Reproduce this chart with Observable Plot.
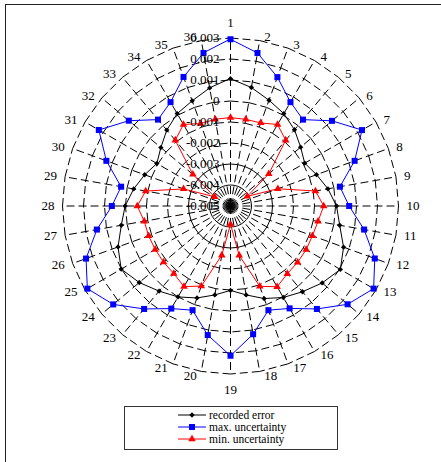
<!DOCTYPE html>
<html>
<head>
<meta charset="utf-8">
<script src="https://cdn.jsdelivr.net/npm/d3@7"></script>
<script src="https://cdn.jsdelivr.net/npm/@observablehq/plot@0.6"></script>
<style>
  html, body { margin: 0; padding: 0; background: #fff; }
  #page { position: relative; width: 441px; height: 462px; overflow: hidden; background: #fff; }
  #frame { position: absolute; left: 5px; top: 4px; width: 470px; height: 490px; border: 1px solid #222; }
  #chart { position: absolute; left: 0; top: 0; }
  #legend { position: absolute; left: 124px; top: 406px; width: 212px; height: 42px; border: 1px solid #333;
            font-family: "Liberation Serif", serif; font-size: 11.5px; color: #000; background: #fff; }
  .row { position: absolute; left: 53px; height: 12px; display: flex; align-items: center; white-space: nowrap; }
  .row svg { margin-right: 3px; flex: none; }
</style>
</head>
<body>
<div id="page">
  <div id="frame"></div>
  <div id="chart"></div>
  <div id="legend"></div>
</div>
<script>
// Spoke (category) labels, clockwise from the top
const spokeLabels = ["1","2","3","4","5","6","7","8","9","10","11","12",
  "13","14","15","16","17","18","19","20","21","22","23","24",
  "25","26","27","28","29","30","31","32","33","34","35","36"];

// Series values per spoke
const recordedError = [0.00106, 0.00073, 0.00036, 0.00008, -0.00026, -0.00064, -0.00092, -0.00064, -0.00029,
  0.00005, 0.00028, 0.00073, 0.00104, 0.0007, 0.00033, 0.00003, -0.00031, -0.0007,
  -0.00098, -0.0007, -0.00034, 0, 0.00029, 0.00067, 0.00101, 0.0007, 0.00028,
  0.00002, -0.00032, -0.00065, -0.00095, -0.00067, -0.00028, 0.00008, 0.00033, 0.00071];

const maxUncertainty = [0.00294, 0.0024, 0.00153, 0.00071, 0.00037, 0.00131, 0.00223, 0.00129, 0.00029,
  0.00065, 0.00146, 0.00231, 0.00287, 0.00228, 0.0014, 0.00063, 0.00028, 0.0012,
  0.00213, 0.00124, 0.00028, 0.00064, 0.0014, 0.00229, 0.00287, 0.00232, 0.00146,
  0.00065, 0.00029, 0.00129, 0.00224, 0.00132, 0.00037, 0.00071, 0.00154, 0.0024];

const minUncertainty = [-0.00079, -0.00081, -0.00079, -0.00052, -0.00091, -0.00262, -0.00408, -0.0026, -0.00089,
  -0.00056, -0.00077, -0.00085, -0.00084, -0.00083, -0.00079, -0.00056, -0.00093, -0.00261,
  -0.00413, -0.00262, -0.00094, -0.00057, -0.0008, -0.00084, -0.00086, -0.00085, -0.00083,
  -0.00056, -0.0009, -0.00262, -0.00413, -0.00266, -0.00091, -0.00052, -0.00082, -0.00081];

// Radial axis ticks
const tickValues = [0.003, 0.002, 0.001, 0, -0.001, -0.002, -0.003, -0.004, -0.005];
const tickLabels = ["0.003", "0.002", "0.001", "0", "-0.001", "-0.002", "-0.003", "-0.004", "-0.005"];

const seriesNames = ["recorded error", "max. uncertainty", "min. uncertainty"];
const seriesColors = ["#000000", "#0000ff", "#ff0000"];
const seriesSymbols = ["diamond2", "square", "triangle"];
const seriesSizes = [2.4, 3.4, 2.8];

// Polar helpers: radial value -> cartesian (in value units)
const VMIN = d3.min(tickValues), VMAX = d3.max(tickValues);
const n = spokeLabels.length;
const ang = i => 2 * Math.PI * i / n;
const px = (v, i) => (v - VMIN) * Math.sin(ang(i));
const py = (v, i) => (v - VMIN) * Math.cos(ang(i));
const labelR = VMIN + (VMAX - VMIN) * 172 / 168;

const seriesValues = [recordedError, maxUncertainty, minUncertainty];
const series = seriesNames.map((name, s) => ({
  name, color: seriesColors[s], symbol: seriesSymbols[s], r: seriesSizes[s],
  points: seriesValues[s].map((v, i) => ({ v, i }))
}));

const spokes = spokeLabels.map((label, i) => ({ label, i }));
// gridline rings, drawn one segment at a time between neighbouring spokes
const ringSegs = tickValues.filter(v => v > VMIN).flatMap(v => spokes.map(s => ({ v, i: s.i })));

const font = { fontFamily: "Liberation Serif", fontSize: 13, fill: "#000" };

const seriesMarks = series.flatMap(s => [
  Plot.line(s.points, {
    x: d => px(d.v, d.i), y: d => py(d.v, d.i),
    stroke: s.color, strokeWidth: 1, curve: "linear-closed"
  })
]);
const dotMarks = series.map(s =>
  Plot.dot(s.points, {
    x: d => px(d.v, d.i), y: d => py(d.v, d.i),
    symbol: s.symbol, r: s.r, fill: s.color, stroke: "none"
  })
);

const chart = Plot.plot({
  width: 441,
  height: 410,
  marginLeft: 20,
  marginRight: 1,
  marginTop: 6,
  marginBottom: 5,
  x: { domain: [-0.010, 0.010], axis: null },
  y: { domain: [-0.0095, 0.0095], axis: null },
  style: { background: "transparent", fontFamily: "Liberation Serif" },
  marks: [
    // dashed rings
    Plot.link(ringSegs, {
      x1: d => px(d.v, d.i), y1: d => py(d.v, d.i),
      x2: d => px(d.v, d.i + 1), y2: d => py(d.v, d.i + 1),
      stroke: "#000", strokeWidth: 1, strokeDasharray: "8,4"
    }),
    // dashed spokes
    Plot.link(spokes, {
      x1: 0, y1: 0,
      x2: d => px(VMAX, d.i), y2: d => py(VMAX, d.i),
      stroke: "#000", strokeWidth: 1, strokeDasharray: "8,4"
    }),
    ...seriesMarks,
    ...dotMarks,
    // spoke labels
    Plot.text(spokes.filter(d => d.i === 0), {
      x: d => px(labelR, d.i), y: d => py(labelR, d.i), text: "label",
      textAnchor: "middle", dy: -11.5, ...font
    }),
    Plot.text(spokes.filter(d => d.i === n / 2), {
      x: d => px(labelR, d.i), y: d => py(labelR, d.i), text: "label",
      textAnchor: "middle", dy: 11.5, ...font
    }),
    Plot.text(spokes.filter(d => d.i > 0 && d.i < n / 2), {
      x: d => px(labelR, d.i), y: d => py(labelR, d.i), text: "label",
      textAnchor: "start", dx: 4, ...font
    }),
    Plot.text(spokes.filter(d => d.i > n / 2), {
      x: d => px(labelR, d.i), y: d => py(labelR, d.i), text: "label",
      textAnchor: "end", dx: -4, ...font
    }),
    // radial tick labels along the first spoke
    Plot.text(tickValues, {
      x: 0, y: d => d - VMIN, text: (d, i) => tickLabels[i],
      textAnchor: "end", dx: -11, ...font
    })
  ]
});
document.getElementById("chart").appendChild(chart);

// legend: line sample with marker, then series name
const legend = d3.select("#legend");
const rowCenters = [7.5, 20, 32];
series.forEach((s, k) => {
  const row = legend.append("div").attr("class", "row").style("top", (rowCenters[k] - 6) + "px");
  const svg = row.append("svg").attr("width", 28).attr("height", 10);
  svg.append("line").attr("x1", 0).attr("x2", 28).attr("y1", 5).attr("y2", 5)
    .attr("stroke", s.color).attr("stroke-width", 1);
  const sym = { diamond2: d3.symbolDiamond2, square: d3.symbolSquare, triangle: d3.symbolTriangle }[s.symbol];
  svg.append("path").attr("transform", "translate(14,5)")
    .attr("d", d3.symbol(sym, Math.PI * s.r * s.r)()).attr("fill", s.color);
  row.append("span").text(s.name);
});
</script>
</body>
</html>
